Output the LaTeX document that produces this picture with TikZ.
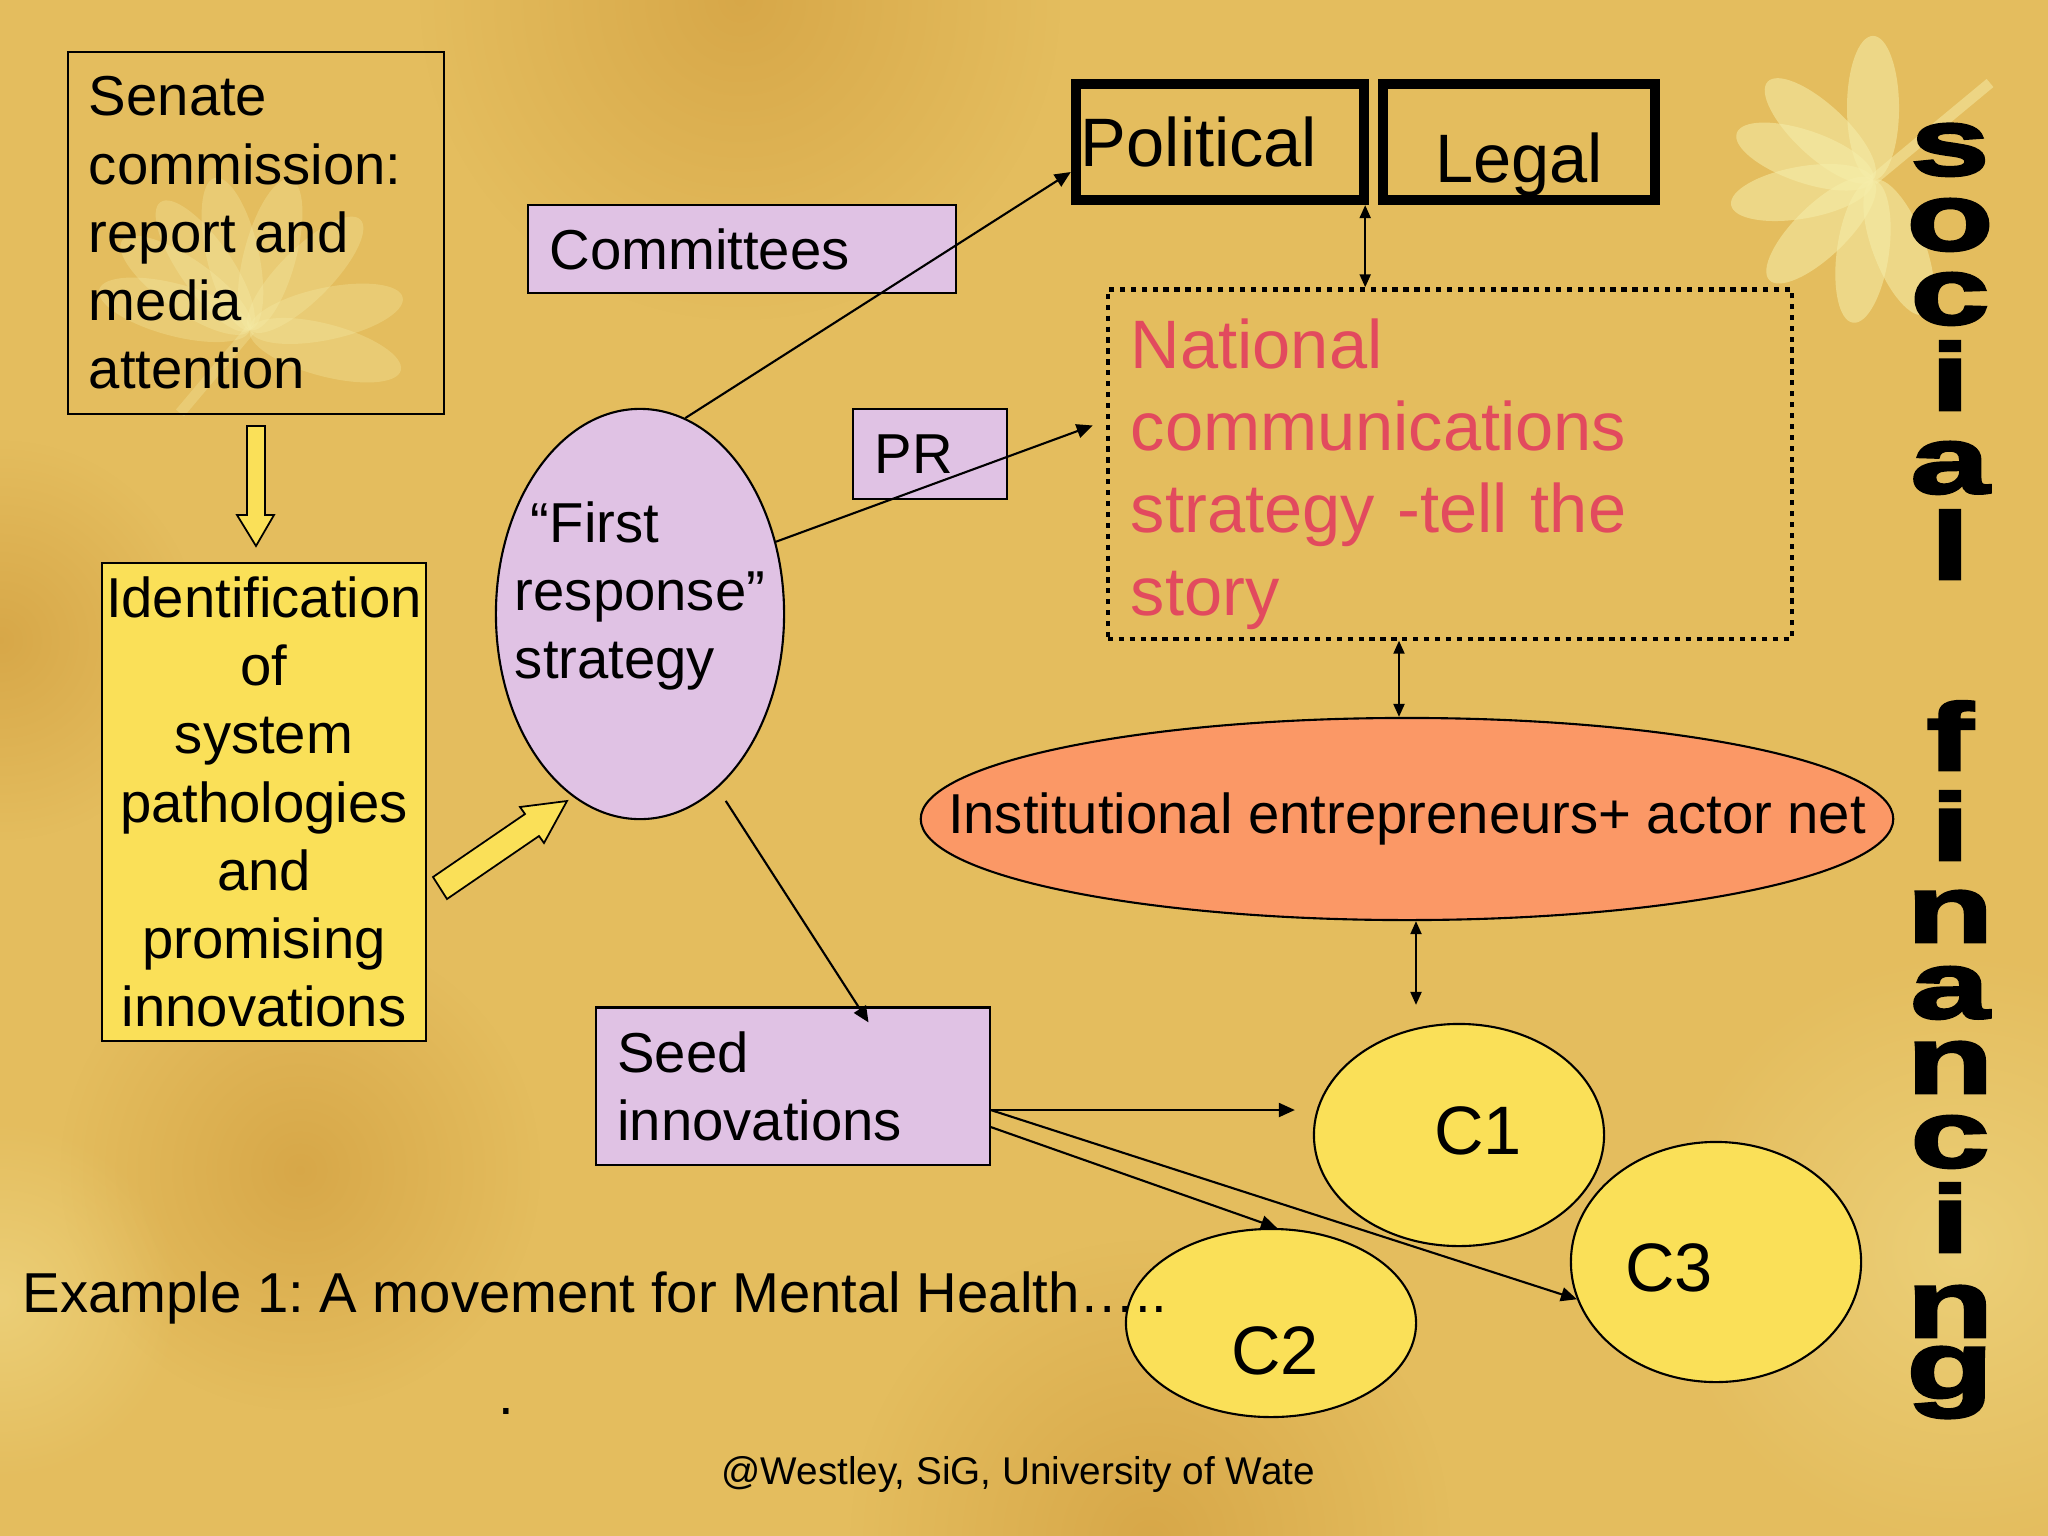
\documentclass[tikz,border=0pt]{standalone}
\usepackage{fontspec}
\setmainfont{Liberation Sans}
\newfontfamily\blackfont{Liberation Sans}[FakeBold=3,FakeStretch=1.5]
\usetikzlibrary{shapes.geometric,arrows.meta,calc,fadings}
\definecolor{bgsand}{RGB}{228,189,94}
\definecolor{bgdark}{RGB}{205,150,55}
\definecolor{bglight}{RGB}{242,222,140}
\definecolor{petal}{RGB}{246,238,170}
\definecolor{lilac}{RGB}{224,194,228}
\definecolor{lemon}{RGB}{250,224,88}
\definecolor{salmon}{RGB}{251,152,102}
\definecolor{storyred}{RGB}{226,74,94}
\tikzfading[name=soft,inner color=transparent!45,outer color=transparent!100]
\begin{document}
\frenchspacing
\begin{tikzpicture}[x=0.01cm,y=-0.01cm,
    box/.style={shape=rectangle,draw=black,line width=0.6pt,inner sep=0pt},
    oval/.style={shape=ellipse,draw=black,line width=0.6pt,inner sep=0pt},
    txt/.style={font=\fontsize{16}{19.4}\selectfont},
    big/.style={font=\fontsize{19.5}{23.4}\selectfont},
    vert/.style={font=\blackfont\bfseries\fontsize{27}{27}\selectfont,inner sep=0pt},
    link/.style={line width=0.6pt,-{Triangle[length=1.6mm,width=1.4mm]}},
    twoway/.style={line width=0.6pt,{Triangle[length=1.3mm,width=1.1mm]}-{Triangle[length=1.3mm,width=1.1mm]}},
    blockarrow/.style={fill=lemon,draw=black,line width=0.5pt},
    leaf/.style={fill=petal,opacity=0.3},
    blot/.style={path fading=soft}]
    \clip (0,0) rectangle (2048,1536);
    \fill[bgsand] (0,0) rectangle (2048,1536);
    \fill[bgdark,blot] (740,0) circle[radius=3.2cm];
    \fill[bgdark,blot] (300,1170) circle[radius=2.4cm];
    \fill[bgdark,blot] (1150,1540) circle[radius=3cm];
    \fill[bgdark,blot] (0,640) circle[radius=2cm];
    \fill[bglight,blot] (1960,1250) circle[radius=3cm];
    \fill[bglight,blot] (0,1300) circle[radius=1.8cm];
    \foreach \a in {-15,12,45,75,103,125,145,165}
        \fill[leaf,rotate around={\a:(250,330)}] (250,330) ++(0.78cm,0) ellipse[x radius=0.78cm,y radius=0.26cm];
    \draw[petal,line width=3pt,opacity=0.3] (250,330) -- (180,413);
    \foreach \a in {90,137,161,190,224,262,291}
        \fill[leaf,opacity=0.55,rotate around={\a:(1873,180)}] (1873,180) ++(0.72cm,0) ellipse[x radius=0.72cm,y radius=0.26cm];
    \draw[petal,line width=3pt,opacity=0.5] (1873,180) -- (1990,83);

    \node[box,txt,line width=0.5pt,align=left,text width=3.34cm,minimum width=3.76cm,minimum height=3.62cm] (senate) at (256,233) {Senate\\commission:\\report and\\media\\attention};
    \node[box,txt,fill=lemon,align=center,minimum width=3.24cm,minimum height=4.77cm] (ident) at (264,802) {Identification\\of\\system\\pathologies\\and\\promising\\innovations};
    \node[oval,fill=lilac,minimum width=2.88cm,minimum height=4.10cm,label={[txt,align=left,yshift=0.18cm]center:{\hspace*{0.16cm}“First\\response”\\strategy}}] (first) at (640,614) {};
    \node[box,txt,fill=lilac,align=left,text width=3.85cm,minimum width=4.27cm,minimum height=0.88cm] (committees) at (742,249) {Committees};
    \node[box,txt,fill=lilac,align=left,text width=1.10cm,minimum width=1.54cm,minimum height=0.90cm] (pr) at (930,454) {PR};
    \node[box,txt,fill=lilac,align=left,text width=3.51cm,minimum width=3.93cm,minimum height=1.57cm] (seed) at (793,1086) {Seed\\innovations};
    \node[box,big,line width=2.9pt,align=left,text width=2.78cm,minimum width=2.88cm,minimum height=1.16cm] (political) at (1220,142) {Political};
    \node[box,big,line width=2.9pt,minimum width=2.72cm,minimum height=1.16cm,text height=0.95cm,text depth=0.14cm] (legal) at (1519,142) {Legal};
    \node[box,line width=1.2pt,dash pattern=on 1.5pt off 1.6pt,minimum width=6.84cm,minimum height=3.49cm,label={[big,text=storyred,align=left,text width=6.38cm,inner sep=0pt,yshift=-0.10cm]center:{National\\communications\\strategy -tell the\\story}}] (national) at (1450,464) {};
    \node[oval,fill=salmon,minimum width=9.72cm,minimum height=2.02cm,label={[txt]center:Institutional entrepreneurs+ actor net}] (inst) at (1407,819) {};
    \node[oval,fill=lemon,minimum width=2.90cm,minimum height=2.22cm,label={[big,xshift=0.19cm,yshift=0.04cm]center:C1}] (c1) at (1459,1135) {};
    \node[oval,fill=lemon,minimum width=2.90cm,minimum height=1.88cm,label={[big,xshift=0.04cm,yshift=-0.28cm]center:C2}] (c2) at (1271,1323) {};
    \node[oval,fill=lemon,minimum width=2.90cm,minimum height=2.40cm,label={[big,xshift=-0.47cm,yshift=-0.06cm]center:C3}] (c3) at (1716,1262) {};

    \draw[blockarrow] (247,426) -- (265,426) -- (265,515) -- (274,515) -- (256,546) -- (237,515) -- (247,515) -- cycle;
    \draw[blockarrow] (433,877) -- (525,814) -- (520,807) -- (567,801) -- (544,843) -- (539,836) -- (447,899) -- cycle;

    \draw[link] (first.77) -- ([yshift=-0.30cm]political.west);
    \draw[link] (first.28) -- ([xshift=-0.13cm,yshift=0.385cm]national.west);
    \draw[link,shorten <=0.15cm] (first.-66) -- ([xshift=0.755cm,yshift=-0.16cm]seed.north);
    \draw[twoway] ($(political.south east)+(-4,0)$) -- ($(political.south east |- national.north)+(-4,0)$);
    \draw[twoway] ($(inst.north)+(-8,0)$) -- ($(inst.north |- national.south)+(-8,0)$);
    \draw[twoway] ($(inst.south)+(9,0)$) -- ($(inst.south |- c1.north)+(9,-18)$);
    \coordinate (seedhi) at ($(seed.east)+(0,24)$);
    \coordinate (seedlo) at ($(seed.east)+(0,41)$);
    \draw[link,shorten >=0.18cm] (seedhi) -- (seedhi -| c1.west);
    \draw[link] (seedhi) -- (c3.195);
    \draw[link] (seedlo) -- ([xshift=0.06cm]c2.north);

    \node[txt,inner sep=0pt,anchor=base west] (example) at (22,1312) {Example 1: A movement for Mental Health…..};
    \node[txt,inner sep=0pt,anchor=base] (dot) at (506,1414) {.};
    \begin{scope}
        \clip (0,0) rectangle (1323,1536);
        \node[font=\fontsize{11}{13}\selectfont,inner sep=0pt,anchor=base west] (credit) at (721,1484) {@Westley, SiG, University of Wate};
    \end{scope}
    \foreach \ch/\y [count=\i] in {s/175,o/250,c/324,i/410,a/493,l/579}
        \node[vert,anchor=base] (soc\i) at (1950,\y) {\ch};
    \foreach \ch/\y [count=\i] in {f/770,i/860,n/942,a/1018,n/1093,c/1167,i/1252,n/1337,g/1398}
        \node[vert,anchor=base] (fin\i) at (1950,\y) {\ch};
\end{tikzpicture}
\end{document}
